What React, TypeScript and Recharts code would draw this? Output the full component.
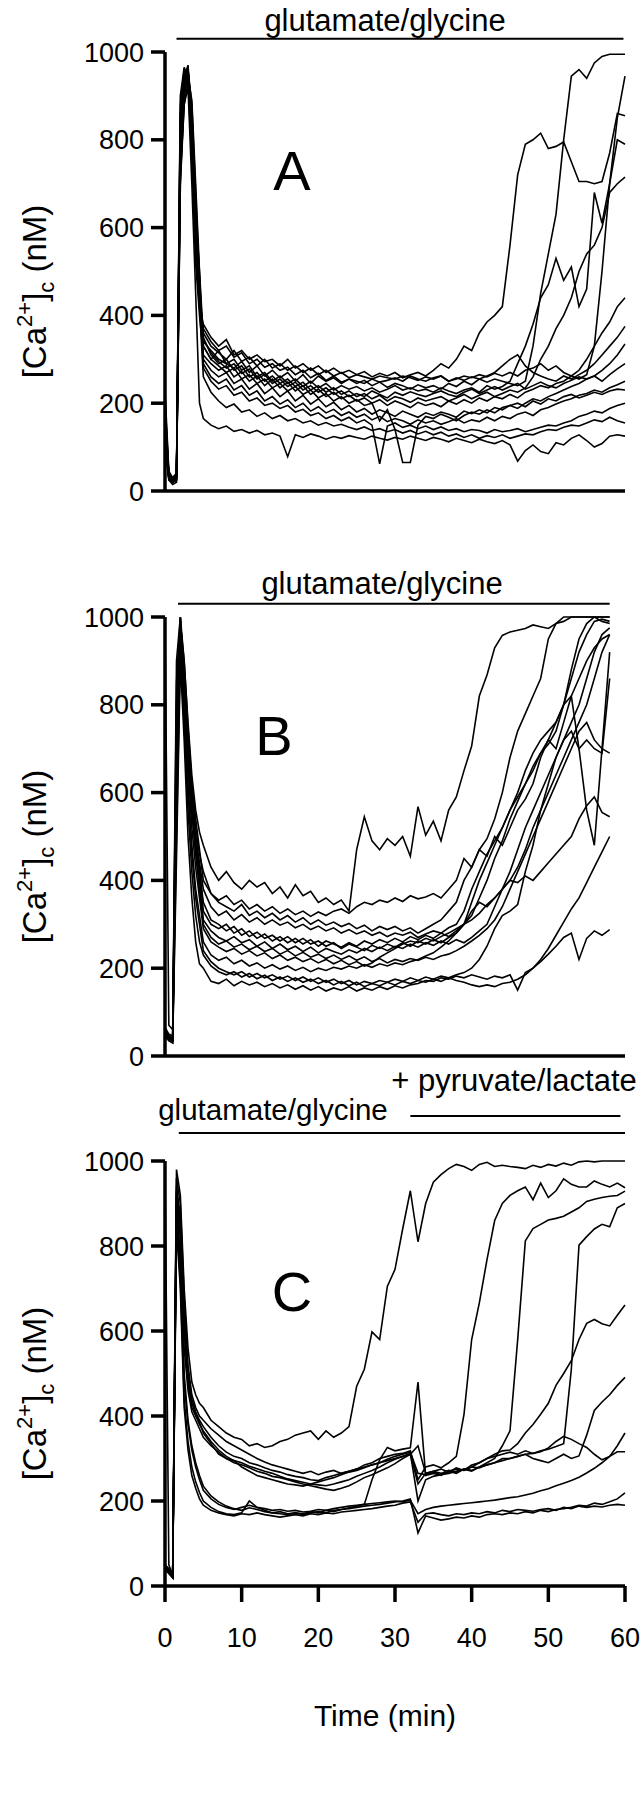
import React from 'react'
import { LineChart, Line, XAxis, YAxis, ReferenceLine, Label } from 'recharts'

const FONT = '"Liberation Sans", Arial, Helvetica, sans-serif'

// minutes; 0.5 min steps through the initial spike, then 1 min
const TIME = [0, 0.5, 1, 1.5, 2, 2.5, 3, 3.5, 4, 4.5,
  5, 6, 7, 8, 9, 10, 11, 12, 13, 14,
  15, 16, 17, 18, 19, 20, 21, 22, 23, 24,
  25, 26, 27, 28, 29, 30, 31, 32, 33, 34,
  35, 36, 37, 38, 39, 40, 41, 42, 43, 44,
  45, 46, 47, 48, 49, 50, 51, 52, 53, 54,
  55, 56, 57, 58, 59, 60]
// panel B recordings stop at 58 min
const TIME_B = TIME.filter(t => t <= 58)

const Y_TICKS = [0, 200, 400, 600, 800, 1000]
const X_TICKS = [0, 10, 20, 30, 40, 50, 60]

// ---- panel A, [Ca2+]c in nM ----
const A1 = [170,40,30,35,880,960,950,800,560,420,
  380,350,330,345,310,320,300,310,295,300,
  285,300,280,290,275,285,270,280,268,275,
  265,272,260,268,262,270,258,265,270,262,
  275,290,280,300,330,320,360,385,400,420,
  560,720,790,800,815,780,785,795,750,705,
  705,700,705,770,860,855]
const A2 = [200,35,25,30,850,955,965,830,600,450,
  360,330,315,300,320,295,305,285,300,280,
  290,275,285,270,280,265,275,262,270,258,
  265,260,255,262,258,255,262,258,252,260,
  255,262,250,258,252,260,255,248,255,250,
  245,240,250,330,450,540,630,800,945,960,
  940,975,990,995,995,995]
const A3 = [230,45,30,40,800,940,970,850,650,480,
  340,320,300,290,280,295,270,285,262,275,
  258,270,250,265,245,262,250,258,245,255,
  250,245,255,248,252,258,250,262,255,250,
  258,262,250,255,262,258,265,260,268,262,
  270,262,275,280,290,275,285,270,262,255,
  265,330,500,700,850,945]
const A4 = [150,30,20,30,780,930,955,870,620,460,
  330,300,320,290,300,275,285,260,270,250,
  262,245,255,238,250,235,245,230,240,232,
  238,228,235,225,232,240,230,235,228,232,
  225,235,228,222,230,235,225,240,232,238,
  250,290,330,380,440,470,530,480,510,420,
  460,680,610,700,800,790]
const A5 = [190,35,25,35,700,900,945,860,640,500,
  350,310,290,300,275,285,260,270,250,262,
  245,255,238,248,230,240,225,235,220,228,
  215,222,210,218,205,215,210,202,212,205,
  210,215,205,212,220,210,218,225,215,222,
  230,225,235,260,300,330,370,400,440,500,
  540,560,600,680,700,715]
const A6 = [160,30,25,30,820,950,930,760,520,400,
  310,290,275,285,260,272,250,262,240,255,
  235,248,228,240,220,232,215,225,210,218,
  205,212,200,208,195,205,198,190,202,195,
  200,192,205,198,208,200,212,205,215,210,
  220,212,225,232,240,235,245,250,262,275,
  300,330,360,385,420,440]
const A7 = [210,40,30,40,900,965,940,780,540,420,
  370,340,320,330,305,315,290,300,282,290,
  275,282,265,275,258,268,252,262,248,255,
  245,252,240,248,236,245,240,232,242,235,
  240,232,245,238,250,242,255,262,270,285,
  300,310,285,270,262,255,250,262,255,265,
  275,290,310,330,350,375]
const A8 = [140,30,20,30,760,920,960,880,680,480,
  300,275,260,270,245,255,232,245,222,235,
  215,228,205,218,198,210,192,202,185,195,
  180,188,175,185,178,170,182,175,168,178,
  172,180,175,168,182,176,185,178,190,185,
  195,188,200,210,205,215,222,230,238,245,
  255,262,275,290,310,335]
const A9 = [180,35,25,35,860,945,955,800,580,440,
  345,315,295,280,290,268,278,255,265,245,
  255,238,248,230,240,225,235,220,228,215,
  222,215,228,220,212,225,218,226,220,215,
  222,228,220,215,225,232,222,230,238,230,
  238,245,232,240,248,240,235,245,252,260,
  255,262,250,265,278,290]
const A10 = [120,30,20,25,740,900,945,890,700,500,
  290,260,245,255,230,240,218,228,205,215,
  198,208,190,200,182,192,178,186,172,180,
  168,175,162,170,158,165,160,152,162,155,
  160,152,158,165,155,162,158,168,160,170,
  165,175,180,172,185,190,198,205,210,218,
  222,230,225,235,242,250]
const A11 = [110,25,20,25,720,880,930,860,640,420,
  260,225,205,190,198,180,185,170,178,165,
  172,160,165,155,160,150,156,148,152,145,
  140,146,138,142,135,140,132,138,130,136,
  128,134,125,130,122,128,120,126,122,128,
  120,125,130,128,135,140,138,145,150,148,
  155,162,158,168,160,155]
const A12 = [100,25,15,20,700,880,920,700,450,200,
  165,150,142,148,136,140,132,138,128,132,
  125,78,128,122,130,125,118,124,120,126,
  122,118,125,120,116,122,118,125,120,115,
  122,118,112,120,115,110,118,112,108,115,
  105,68,92,105,90,85,110,105,120,128,
  115,100,108,125,128,125]
const A13 = [170,35,25,30,840,950,960,820,600,450,
  330,300,285,270,280,255,265,245,255,235,
  245,228,238,220,230,212,222,205,215,200,
  208,195,200,160,185,140,65,65,150,170,
  165,175,168,160,172,180,175,185,178,190,
  195,200,192,205,198,210,205,215,220,212,
  218,225,220,228,232,230]
const A14 = [130,30,20,25,760,920,950,840,600,440,
  280,250,232,240,218,225,205,212,195,200,
  188,195,180,186,172,178,165,172,160,168,
  155,162,150,62,148,155,145,150,142,148,
  140,146,138,142,135,140,138,132,140,135,
  138,142,135,140,145,150,148,155,160,170,
  175,182,178,188,195,200]

// ---- panel B ----
const B1 = [1000,70,60,650,1000,900,760,640,560,510,
  480,430,400,420,395,380,400,385,395,370,
  385,360,390,365,375,350,360,345,355,330,
  470,545,490,470,495,480,500,455,568,503,
  535,490,560,590,650,706,820,868,930,958,
  966,970,974,982,978,974,985,990,1000,1000,
  1000,1000,1000,1000]
const B2 = [60,45,40,800,990,880,720,600,520,460,
  420,370,350,340,330,345,320,330,315,325,
  310,320,305,315,300,310,298,305,295,302,
  290,298,285,295,288,295,285,292,280,290,
  300,310,330,350,400,430,470,495,540,600,
  680,740,780,820,860,950,985,1000,1000,1000,
  1000,1000,1000,1000]
const B3 = [55,40,35,700,985,900,750,620,540,470,
  400,370,355,365,345,355,335,345,330,340,
  325,335,322,330,318,328,320,330,335,325,
  340,350,345,355,350,360,352,365,358,362,
  370,360,380,400,450,430,470,455,500,480,
  520,560,585,620,680,720,760,800,860,920,
  960,990,995,990]
const B4 = [65,50,45,900,1000,850,700,580,500,440,
  380,340,320,330,310,322,305,315,300,310,
  298,305,292,300,288,296,285,292,280,288,
  278,285,275,282,272,280,275,282,270,278,
  285,280,292,300,330,380,420,460,490,520,
  560,590,620,660,690,710,740,800,880,950,
  985,1000,990,985]
const B5 = [50,40,35,600,970,860,700,560,480,420,
  350,310,300,285,295,275,285,268,278,262,
  272,258,268,255,265,250,262,255,248,258,
  250,262,255,265,258,268,260,272,265,275,
  268,280,272,285,300,320,360,400,450,490,
  540,580,620,650,690,720,700,760,820,860,
  900,930,950,960]
const B6 = [60,45,40,750,995,870,720,590,500,430,
  330,300,290,300,280,290,272,282,268,275,
  262,272,258,268,255,262,250,258,245,255,
  248,240,252,245,255,248,258,250,262,255,
  265,258,270,280,300,350,400,440,480,520,
  560,600,650,690,720,740,760,800,820,700,
  560,480,700,920]
const B7 = [55,40,35,850,1000,840,680,560,470,400,
  310,285,270,262,272,258,265,250,260,245,
  255,242,250,238,248,235,245,238,232,242,
  235,245,238,248,240,250,245,255,248,258,
  252,262,255,265,258,270,285,300,340,380,
  420,470,520,560,600,640,680,720,740,700,
  720,700,690,860]
const B8 = [60,45,40,700,980,850,690,560,460,380,
  300,270,255,262,248,255,242,250,238,245,
  232,240,228,236,225,232,222,230,220,228,
  218,226,215,222,212,220,215,222,218,225,
  220,228,232,240,250,262,275,290,310,340,
  380,420,460,500,540,580,620,660,700,740,
  760,720,700,690]
const B9 = [50,40,35,650,960,820,660,520,430,360,
  290,260,248,238,245,232,240,228,235,222,
  230,218,225,215,222,212,220,210,218,208,
  215,205,212,225,235,245,255,262,258,268,
  262,272,280,290,300,310,325,345,360,380,
  400,430,470,520,560,600,640,680,720,760,
  800,860,920,960]
const B10 = [55,40,35,550,940,800,620,480,380,320,
  260,230,218,225,210,218,205,212,200,208,
  198,205,195,202,192,200,195,202,198,205,
  200,208,202,210,205,212,208,215,220,228,
  235,248,262,280,300,330,350,340,360,380,
  400,395,410,400,420,440,460,480,500,540,
  570,590,555,545]
const B11 = [50,35,30,500,920,760,560,420,320,260,
  230,205,192,185,192,180,188,176,184,172,
  180,170,178,168,175,165,172,162,170,160,
  168,158,165,160,168,162,170,165,172,168,
  175,170,178,172,168,162,158,162,158,165,
  168,175,185,200,220,245,275,305,335,360,
  395,430,465,500]
const B12 = [45,35,30,450,900,720,500,360,260,210,
  200,170,165,175,160,170,162,168,158,165,
  155,162,152,160,150,158,148,155,150,158,
  148,155,150,158,152,160,155,162,165,172,
  170,178,175,182,178,185,180,175,182,178,
  185,150,190,200,215,232,250,270,280,220,
  268,285,275,288]
const B13 = [55,40,35,600,950,780,600,460,360,300,
  240,215,200,192,185,192,180,188,178,185,
  175,182,172,180,170,178,168,175,165,172,
  162,170,165,172,168,175,170,178,172,180,
  175,182,178,185,190,200,220,250,290,320,
  330,345,420,480,560,620,680,720,760,800,
  860,920,960,975]

// ---- panel C (pyruvate/lactate added at ~32 min) ----
const C1 = [990,50,25,980,920,700,560,480,450,430,
  420,390,375,360,350,345,330,335,326,330,
  340,345,355,360,365,345,365,350,360,375,
  470,510,598,580,705,745,840,930,810,900,
  950,968,982,992,987,978,992,997,987,990,
  987,985,982,990,985,992,988,995,990,998,
  1000,998,1000,1000,1000,1000]
const C2 = [50,40,20,960,900,680,520,450,420,400,
  390,370,355,340,330,320,310,300,292,285,
  280,275,270,265,270,262,268,272,265,270,
  275,285,290,300,305,310,312,318,250,280,
  285,278,290,305,404,580,666,768,860,900,
  919,930,939,909,948,914,930,958,945,939,
  939,953,945,939,948,937]
const C3 = [40,30,20,940,870,640,500,440,410,390,
  375,350,330,315,305,300,290,285,278,272,
  268,262,258,255,250,248,255,260,265,270,
  275,280,285,290,295,300,305,310,240,265,
  270,265,272,268,275,270,280,290,300,330,
  365,579,812,841,851,861,865,870,880,890,
  905,910,914,917,919,929]
const C4 = [45,35,20,930,850,600,480,420,400,380,
  365,340,320,305,295,280,270,260,255,250,
  245,240,238,235,240,245,250,255,262,268,
  272,278,285,290,298,305,310,315,265,262,
  268,262,270,275,272,280,278,285,290,295,
  300,305,310,312,318,322,328,335,510,802,
  822,840,851,845,890,900]
const C5 = [40,30,20,920,840,620,490,430,405,385,
  360,335,310,300,290,285,278,270,265,258,
  255,250,245,240,236,232,228,225,230,236,
  245,255,262,270,278,288,300,310,330,265,
  270,275,268,278,272,285,290,300,310,318,
  320,335,360,380,404,430,472,500,530,580,
  618,627,617,612,637,661]
const C6 = [50,35,20,900,820,560,460,410,390,370,
  350,330,315,300,295,290,282,276,270,265,
  258,252,248,244,240,238,236,240,245,250,
  258,265,272,280,290,298,305,312,200,250,
  258,262,265,270,275,272,280,285,290,300,
  300,305,310,300,295,290,300,310,300,306,
  355,413,433,450,472,491]
const C7 = [50,40,25,880,760,480,380,320,280,250,
  225,205,192,185,180,185,190,185,182,178,
  180,176,178,174,176,180,178,182,185,188,
  190,192,194,196,198,200,198,202,170,180,
  185,188,190,192,194,196,198,200,202,205,
  208,210,214,218,224,229,236,242,248,256,
  266,277,290,305,330,360]
const C8 = [40,30,20,900,780,500,390,330,290,260,
  235,212,198,188,182,178,184,180,175,172,
  175,170,172,168,172,175,172,178,180,184,
  188,192,250,297,326,318,322,325,480,260,
  265,260,270,265,275,280,290,300,305,310,
  315,310,318,312,316,325,340,352,345,335,
  326,310,297,305,316,316]
const C9 = [50,35,25,860,720,440,340,280,245,220,
  200,185,175,170,168,172,200,185,178,172,
  170,168,172,170,175,172,178,175,180,182,
  185,188,190,192,195,198,200,205,125,165,
  160,155,158,162,160,165,162,168,170,168,
  172,170,175,172,178,175,180,182,185,190,
  188,195,192,198,205,219]
const C10 = [45,30,20,840,700,420,320,260,230,205,
  190,178,172,168,165,170,168,172,168,165,
  162,165,168,165,170,168,172,170,174,176,
  178,180,182,185,188,190,195,198,150,170,
  172,168,165,170,168,172,170,175,172,178,
  175,180,178,176,180,182,178,185,182,188,
  185,188,186,190,192,190]

const TRACES_A = [A1, A2, A3, A4, A5, A6, A7, A8, A9, A10, A11, A12, A13, A14]
const TRACES_B = [B1, B2, B3, B4, B5, B6, B7, B8, B9, B10, B11, B12, B13]
const TRACES_C = [C1, C2, C3, C4, C5, C6, C7, C8, C9, C10]

const axisStyle = { stroke: '#000', strokeWidth: 3.5 }
const tickStyle = { fontSize: 27, fill: '#000', fontFamily: FONT }
const chartMargin = { top: 52, right: 15, bottom: 0, left: 65 }

function toRows(time: number[], traces: number[][]) {
  return time.map((t, i) => {
    const row: Record<string, number> = { t }
    traces.forEach((s, k) => { row['s' + k] = s[i] })
    return row
  })
}

function YLabel(props: any) {
  const vb = props.viewBox || { y: 52, height: 439 }
  const cx = 46
  const cy = vb.y + vb.height / 2 + 20
  return (
    <text x={cx} y={cy} transform={`rotate(-90 ${cx} ${cy})`} textAnchor="middle"
      fontSize={33} fill="#000" fontFamily={FONT}>
      [Ca<tspan fontSize={22} dy={-14}>2+</tspan><tspan dy={14}>]</tspan>
      <tspan fontSize={22} dy={8}>c</tspan><tspan dy={-8}> (nM)</tspan>
    </text>
  )
}

function XLabel(props: any) {
  const vb = props.viewBox
  return (
    <text x={vb.x + vb.width / 2 - 10} y={vb.y + 140} textAnchor="middle"
      fontSize={30} fill="#000" fontFamily={FONT}>Time (min)</text>
  )
}

interface PanelProps {
  top: number
  height: number
  plotH: number
  time: number[]
  traces: number[][]
  xLabels?: boolean
  bars: { from: number, to: number, y: number }[]
}

function Panel({ top, height, plotH, time, traces, xLabels, bars }: PanelProps) {
  const rows = toRows(time, traces)
  return (
    <div style={{ position: 'absolute', left: 0, top, width: 640, height }}>
      <LineChart width={640} height={height} data={rows} margin={chartMargin}>
        <XAxis type="number" dataKey="t" domain={[0, 60]} ticks={X_TICKS} interval={0}
          height={height - 52 - plotH} tickSize={16} tickMargin={26}
          axisLine={axisStyle} tickLine={axisStyle} tick={xLabels ? tickStyle : false}>
          {xLabels && <Label content={XLabel} />}
        </XAxis>
        <YAxis type="number" domain={[0, 1000]} ticks={Y_TICKS} interval={0} width={100}
          tickSize={14} tickMargin={7} axisLine={axisStyle} tickLine={axisStyle} tick={tickStyle}>
          <Label content={YLabel} />
        </YAxis>
        {bars.map((b, i) => (
          <ReferenceLine key={'bar' + i} segment={[{ x: b.from, y: b.y }, { x: b.to, y: b.y }]}
            stroke="#000" strokeWidth={2} ifOverflow="visible" />
        ))}
        {traces.map((_, k) => (
          <Line key={k} dataKey={'s' + k} type="linear" stroke="#000" strokeWidth={1.6}
            dot={false} activeDot={false} isAnimationActive={false} />
        ))}
      </LineChart>
    </div>
  )
}

export default function App() {
  return (
    <div style={{ position: 'absolute', left: 0, top: 0, width: 640, height: 1800,
      background: '#fff', fontFamily: FONT }}>
      <Panel top={0} height={520} plotH={439} time={TIME} traces={TRACES_A}
        bars={[{ from: 1.5, to: 59.8, y: 1030 }]} />
      <Panel top={565} height={520} plotH={439} time={TIME_B} traces={TRACES_B}
        bars={[{ from: 1.7, to: 58, y: 1030 }]} />
      <Panel top={1109} height={691} plotH={425} time={TIME} traces={TRACES_C} xLabels
        bars={[{ from: 1.8, to: 60, y: 1066 }, { from: 32, to: 59.4, y: 1106 }]} />
      <svg width={640} height={1800} style={{ position: 'absolute', left: 0, top: 0, pointerEvents: 'none' }}>
        <g fill="#000" fontFamily={FONT} textAnchor="middle">
          <text x={385} y={31} fontSize={31}>glutamate/glycine</text>
          <text x={382} y={594} fontSize={31}>glutamate/glycine</text>
          <text x={273} y={1120} fontSize={29.5}>glutamate/glycine</text>
          <text x={514} y={1091} fontSize={31}>+ pyruvate/lactate</text>
          <text x={292} y={190} fontSize={56}>A</text>
          <text x={274} y={755} fontSize={56}>B</text>
          <text x={292} y={1311} fontSize={56}>C</text>
        </g>
      </svg>
    </div>
  )
}
